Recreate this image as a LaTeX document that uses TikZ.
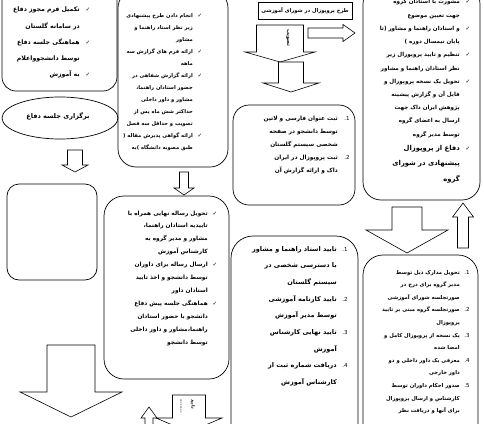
\documentclass[tikz,border=0pt]{standalone}
\usepackage{fontspec}
\newfontfamily\fa[Script=Arabic]{DejaVu Sans}
\newfontfamily\symf{DejaVu Sans}
\TeXXeTstate=1
\newcommand\varrow[6]{% cx, y start, y head base, y tip, shaft half, head half
  \draw[barrow] (#1-#5,#2) -- (#1-#5,#3) -- (#1-#6,#3) -- (#1,#4) -- (#1+#6,#3) -- (#1+#5,#3) -- (#1+#5,#2) -- cycle;}
\newcommand\harrow[6]{% cy, x start, x head base, x tip, shaft half, head half
  \draw[barrow] (#2,#1-#5) -- (#3,#1-#5) -- (#3,#1-#6) -- (#4,#1) -- (#3,#1+#6) -- (#3,#1+#5) -- (#2,#1+#5) -- cycle;}
\begin{document}
\begin{tikzpicture}[x=1pt,y=-1pt,
  box/.style={draw, line width=0.7pt, rounded corners=#1, inner sep=0pt}, box/.default=16pt,
  barrow/.style={draw, fill=white, line width=0.6pt, line join=miter},
  txt/.style={inner sep=0pt, anchor=base east, font=\fa\bfseries\fontsize{#1}{#1}\selectfont}, txt/.default=6,
  ck/.style={inner sep=0pt, anchor=base, font=\symf\fontsize{5.5}{5.5}\selectfont},
  num/.style={inner sep=0pt, anchor=base, font=\fa\fontsize{5.5}{5.5}\selectfont}]
\useasboundingbox (0,0) rectangle (484,423);
\begin{scope}
\clip (0,0) rectangle (484,423);
% ---------- boxes ----------
\draw[box=14pt] (2,-14) rectangle (117,91);
\draw[line width=0.7pt] (60,118) ellipse [x radius=58, y radius=21];
\draw[box=18pt] (118,-10) rectangle (228,167);
\draw[box=12pt] (7,184) rectangle (97,280);
\draw[box=20pt] (104,196) rectangle (229,379);
\draw[line width=0.7pt] (258,2) rectangle (352,19);
\draw[box=18pt] (363,-14) rectangle (480,200);
\draw[box=16pt] (233,105) rectangle (355,205);
\draw[box=22pt] (231,236) rectangle (358,445);
\draw[box=20pt] (363,255) rectangle (478,450);
% ---------- block arrows ----------
\varrow{75}{150}{165}{172}{7.5}{13}
\varrow{71}{345}{392}{417}{24}{51}
\varrow{184}{172}{188}{195}{4.5}{10}
\varrow{280}{25}{52}{62}{23.5}{35}
\harrow{33}{308}{343}{355}{5}{8.5}
\varrow{291}{62}{83}{92}{12.5}{28}
\varrow{407}{207}{230}{253}{15}{41}
\varrow{463}{248}{217}{203}{5.5}{10.5}
\varrow{189}{395}{418}{432}{16.5}{33}
\varrow{149}{430}{418}{407}{4}{8}
% ---------- texts ----------
\node[txt=5.2, anchor=center] (D) at (305,10.5) {\beginR طرح پروپوزال در شورای آموزشی\endR};
\node[txt=6.5, anchor=center] (ellt) at (58,116) {\beginR برگزاری جلسه دفاع\endR};
\node[txt=5, anchor=center, rotate=-90] (rot1) at (288,38) {\beginR تصویب\endR};
\node[txt=4.5, anchor=center, rotate=-90] (rot2) at (181,406) {\beginR ........\endR};
\node[txt=4.5, anchor=center, rotate=-90] (rot3) at (193,404) {\beginR تایید\endR};
% box A
\foreach \t [count=\i from 0] in {تکمیل فرم مجوز دفاع, در سامانه گلستان, هماهنگی جلسه دفاع, توسط دانشجوواعلام, به آموزش}
  \node[txt=6.2] (A\i) at (80,{12+16*\i}) {\beginR\t\endR};
\foreach \i in {0,2,4} \node[ck] (Ac\i) at (88,{12+16*\i}) {✓};
% box B
\foreach \t [count=\i from 0] in {انجام دادن طرح پیشنهادی, زیر نظر استاد راهنما و, مشاور, ارائه فرم های گزارش سه, ماهه, ارائه گزارش شفاهی در, حضور استادان راهنما،, مشاور و داور داخلی, حداکثر شش ماه پس از, تصویب و حداقل سه فصل, ارائه گواهی پذیرش مقاله (, طبق مصوبه دانشگاه )به}
  \node[txt=5.2] (B\i) at (193,{17+12*\i}) {\beginR\t\endR};
\foreach \i in {0,3,5,10} \node[ck] (Bc\i) at (200,{17+12*\i}) {✓};
% box C
\foreach \t [count=\i from 0] in {تحویل رساله نهایی همراه با, تاییدیه استادان راهنما،, مشاور و مدیر گروه به, کارشناس آموزش, ارسال رساله برای داوران, توسط دانشجو و اخذ تایید, استادان داور, هماهنگی جلسه پیش دفاع, دانشجو با حضور استادان, راهنما،مشاور و داور داخلی, توسط دانشجو}
  \node[txt=5.8] (C\i) at (208,{215+12.9*\i}) {\beginR\t\endR};
\foreach \i in {0,4,7} \node[ck] (Cc\i) at (215,{215+12.9*\i}) {✓};
% box E
\foreach \t [count=\i from 0] in {مشورت با استادان گروه, جهت تعیین موضوع, و استادان راهنما و مشاور (تا, پایان نیمسال دوره ), تنظیم و تایید پروپوزال زیر, نظر استادان راهنما و مشاور, تحویل یک نسخه پروپوزال و, فایل آن و گزارش پیشینه, پژوهش ایران داک جهت, ارسال به اعضای گروه, توسط مدیر گروه}
  \node[txt=5.6] (E\i) at (460,{4+13.2*\i}) {\beginR\t\endR};
\foreach \t [count=\i from 0] in {دفاع از پروپوزال, پیشنهادی در شورای, گروه}
  \node[txt=6.8] (Eb\i) at (460,{150+15.5*\i}) {\beginR\t\endR};
\foreach \i/\y in {0/4,2/30.4,4/56.8,6/83.2,11/150} \node[ck] (Ec\i) at (468,\y) {✓};
% box F
\foreach \t [count=\i from 0] in {ثبت عنوان فارسی و لاتین, توسط دانشجو در صفحه, شخصی سیستم گلستان, ثبت پروپوزال در ایران, داک و ارائه گزارش آن}
  \node[txt=5.8] (F\i) at (338,{120+13*\i}) {\beginR\t\endR};
\node[num] (Fn1) at (347,120) {1.};
\node[num] (Fn2) at (347,159) {2.};
% box G
\foreach \t [count=\i from 0] in {تایید استاد راهنما و مشاور, با دسترسی شخصی در, سیستم گلستان, تایید کارنامه آموزشی, توسط مدیر آموزش, تایید نهایی کارشناس, آموزش, دریافت شماره ثبت از, کارشناس آموزش}
  \node[txt=6.5] (G\i) at (337,{251+16.7*\i}) {\beginR\t\endR};
\foreach \i/\n in {0/1,3/2,5/3,7/4} \node[num] (Gn\n) at (345,{251+16.7*\i}) {\n.};
% box H
\foreach \t [count=\i from 0] in {تحویل مدارک ذیل توسط, مدیر گروه برای درج در, صورتجلسه شورای آموزشی, صورتجلسه گروه مبنی بر تایید, پروپوزال, یک نسخه از پروپوزال کامل و, امضا شده, معرفی یک داور داخلی و دو, داور خارجی, صدور احکام داوران توسط, کارشناس و ارسال پروپوزال, برای آنها و دریافت نظر}
  \node[txt=5.3] (H\i) at (460,{274+12.6*\i}) {\beginR\t\endR};
\foreach \i/\n in {0/1,3/2,5/3,7/4,9/5} \node[num] (Hn\n) at (467,{274+12.6*\i}) {\n.};
\end{scope}
\end{tikzpicture}
\end{document}
